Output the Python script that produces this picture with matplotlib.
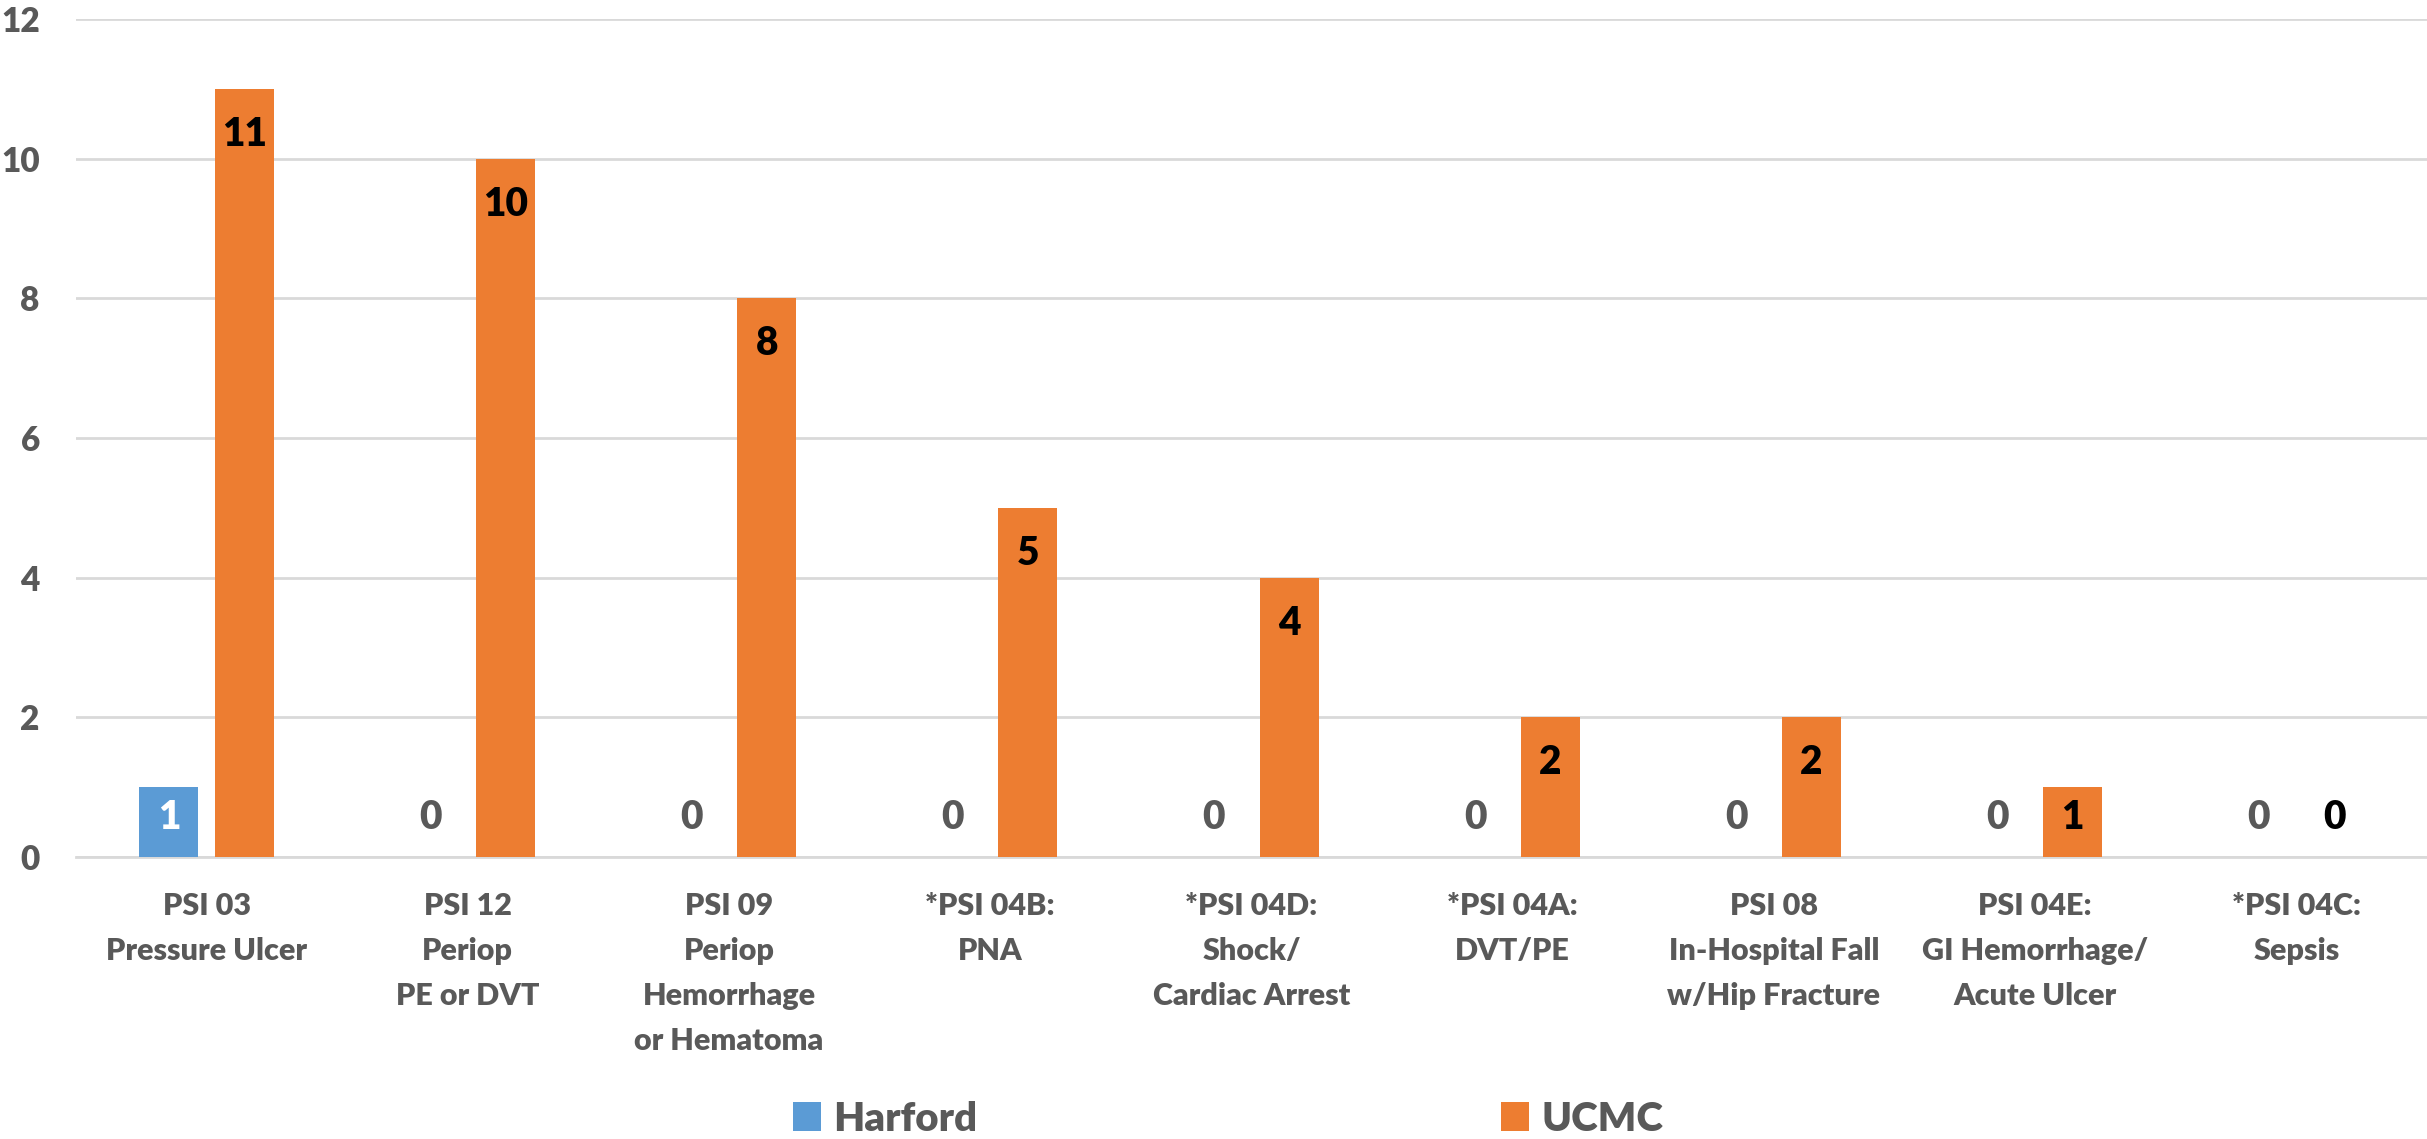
import matplotlib
matplotlib.use("Agg")
import matplotlib.pyplot as plt
import numpy as np

# data
categories = [
    "PSI 03\nPressure Ulcer",
    "PSI 12\nPeriop\nPE or DVT",
    "PSI 09\nPeriop\nHemorrhage\nor Hematoma",
    "*PSI 04B:\nPNA",
    "*PSI 04D:\nShock/\nCardiac Arrest",
    "*PSI 04A:\nDVT/PE",
    "PSI 08\nIn-Hospital Fall\nw/Hip Fracture",
    "PSI 04E:\nGI Hemorrhage/\nAcute Ulcer",
    "*PSI 04C:\nSepsis",
]
harford = [1, 0, 0, 0, 0, 0, 0, 0, 0]
ucmc = [11, 10, 8, 5, 4, 2, 2, 1, 0]
series_names = ["Harford", "UCMC"]
yticks = [0, 2, 4, 6, 8, 10, 12]

BLUE = "#5B9BD5"
ORANGE = "#ED7D31"
GRAY = "#595959"
GRID = "#D9D9D9"
WEIGHT = "heavy"

plt.rcParams["font.family"] = ["Lato", "DejaVu Sans"]
plt.rcParams["font.weight"] = WEIGHT

fig = plt.figure(figsize=(24.27, 11.39), dpi=100)
ax = fig.add_axes([0.0313, 0.2476, 0.9687, 0.7357])

x = np.arange(len(categories))
w = 0.226
off = 0.144
b1 = ax.bar(x - off, harford, w, color=BLUE, zorder=3)
b2 = ax.bar(x + off, ucmc, w, color=ORANGE, zorder=3)

# value labels: inside end, pushed up for very short bars
for bars, vals, inside_col in [(b1, harford, "white"), (b2, ucmc, "black")]:
    for rect, v in zip(bars, vals):
        ypos = max(v - 0.65, 0.56)
        if v == 0:
            col = GRAY if bars is b1 else "black"
        else:
            col = inside_col
        ax.text(rect.get_x() + rect.get_width() / 2, ypos, str(v),
                ha="center", va="center", fontsize=28, fontweight=WEIGHT,
                color=col, zorder=4)

ax.set_xlim(-0.5, len(categories) - 0.5)
ax.set_ylim(0, 12)
ax.set_yticks(yticks)
ax.set_xticks(x)
ax.set_xticklabels(categories, fontsize=22, color=GRAY, linespacing=1.74,
                   fontweight=WEIGHT)
ax.tick_params(axis="x", length=0, pad=25)
ax.tick_params(axis="y", length=0, pad=26, labelsize=24, labelcolor=GRAY)
ax.grid(axis="y", color=GRID, linewidth=2, zorder=0)
for s in ["top", "right", "left"]:
    ax.spines[s].set_visible(False)
ax.spines["bottom"].set_color(GRID)
ax.spines["bottom"].set_linewidth(2)

fig.legend([b1, b2], series_names, loc="center", bbox_to_anchor=(0.506, 0.0175),
           ncol=2, frameon=False, labelcolor=GRAY,
           prop={"weight": WEIGHT, "size": 29},
           handlelength=0.7, handleheight=0.7, handletextpad=0.3,
           columnspacing=13.0, borderaxespad=0, borderpad=0)

fig.savefig("out.png", dpi=100)
